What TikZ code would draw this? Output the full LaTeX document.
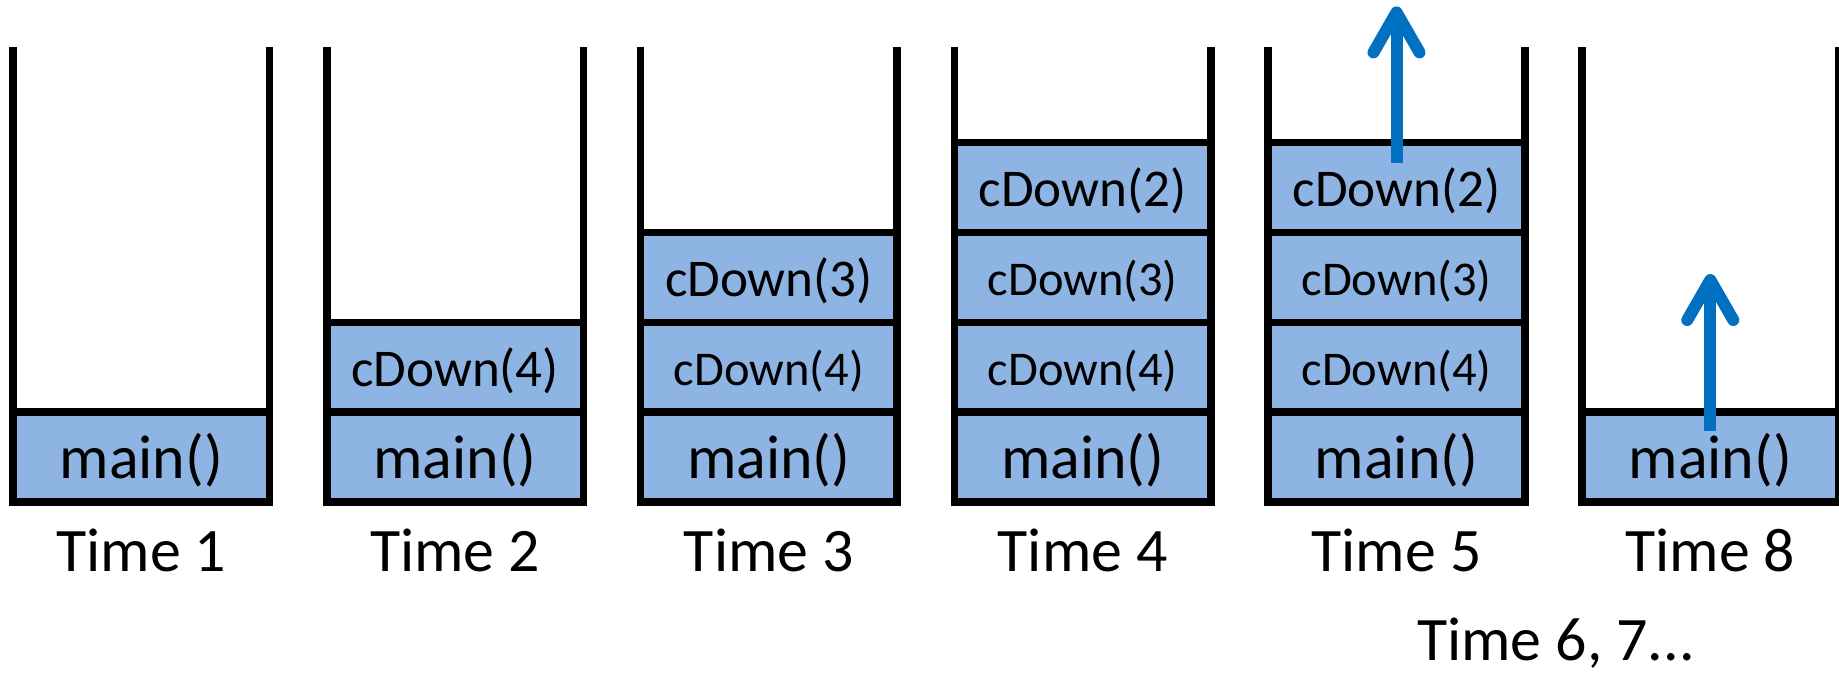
\documentclass[tikz,border=0pt]{standalone}
\usepackage{fontspec}
\setmainfont{Carlito}
\usetikzlibrary{
    positioning,
    arrows.meta
}
\definecolor{framefill}{HTML}{8EB4E3}
\definecolor{popblue}{HTML}{0070C0}
\tikzset {
    frame box/.style = {
        draw, fill = framefill, line width = 0.75mm,
        minimum width = 25.66mm, minimum height = 8.98mm,
        inner sep = 0pt, outer sep = 0pt,
        text height = 3.8mm, text depth = 0pt,
        font = \fontsize{15.1}{18}\selectfont
    },
    small frame/.style = {text height = 3.6mm, font = \fontsize{13.8}{16}\selectfont},
    main frame/.style = {text height = 4.2mm, font = \fontsize{17.6}{20}\selectfont},
    stack wall/.style = {line width = 0.75mm, line join = round},
    time label/.style = {anchor = base, inner sep = 0pt, font = \fontsize{17.6}{20}\selectfont},
    pop arrow/.style = {
        draw = popblue, line width = 1.2mm,
        arrows = {-Straight Barb[length = 4mm, width = 4.6mm, round]}
    }
}

\begin{document}
\begin{tikzpicture}[x = 0.1mm, y = 0.1mm]
    \useasboundingbox (0, 0) rectangle (1839, 674);
    \coordinate (top) at (0, 627.5);
    \coordinate (lab) at (0, 103);
    % bottom frame and walls of each stack
    \foreach \i/\t in {1/1, 2/2, 3/3, 4/4, 5/5, 6/8} {
        \node (m\i) [frame box, main frame] at ({141.3 + 313.8*(\i - 1)}, 217) {main()};
        \draw [stack wall] (m\i.south west |- top) -- (m\i.south west)
            -- (m\i.south east) -- (m\i.south east |- top);
        \node (t\i) [time label] at (m\i |- lab) {Time \t};
    }
    % pushed calls
    \node (c2a) [frame box, above = 0pt of m2] {cDown(4)};
    \node (c3a) [frame box, small frame, above = 0pt of m3] {cDown(4)};
    \node (c3b) [frame box, above = 0pt of c3a] {cDown(3)};
    \node (c4a) [frame box, small frame, above = 0pt of m4] {cDown(4)};
    \node (c4b) [frame box, small frame, above = 0pt of c4a] {cDown(3)};
    \node (c4c) [frame box, above = 0pt of c4b] {cDown(2)};
    \node (c5a) [frame box, small frame, above = 0pt of m5] {cDown(4)};
    \node (c5b) [frame box, small frame, above = 0pt of c5a] {cDown(3)};
    \node (c5c) [frame box, above = 0pt of c5b] {cDown(2)};
    \foreach \i in {2, 3, 4, 5} {
        \draw [stack wall] (m\i.south west |- top) -- (m\i.south west)
            -- (m\i.south east) -- (m\i.south east |- top);
    }
    % returns
    \coordinate (up5) at (c5c |- 0, 667.6);
    \coordinate (up8) at (m6 |- 0, 400);
    \draw [pop arrow] ([yshift = -2mm]c5c.north) -- (up5);
    \draw [pop arrow] ([yshift = -1.9mm]m6.north) -- (up8);
    \node (t67) [time label] at (1556, 14) {Time 6, 7...};
\end{tikzpicture}
\end{document}
